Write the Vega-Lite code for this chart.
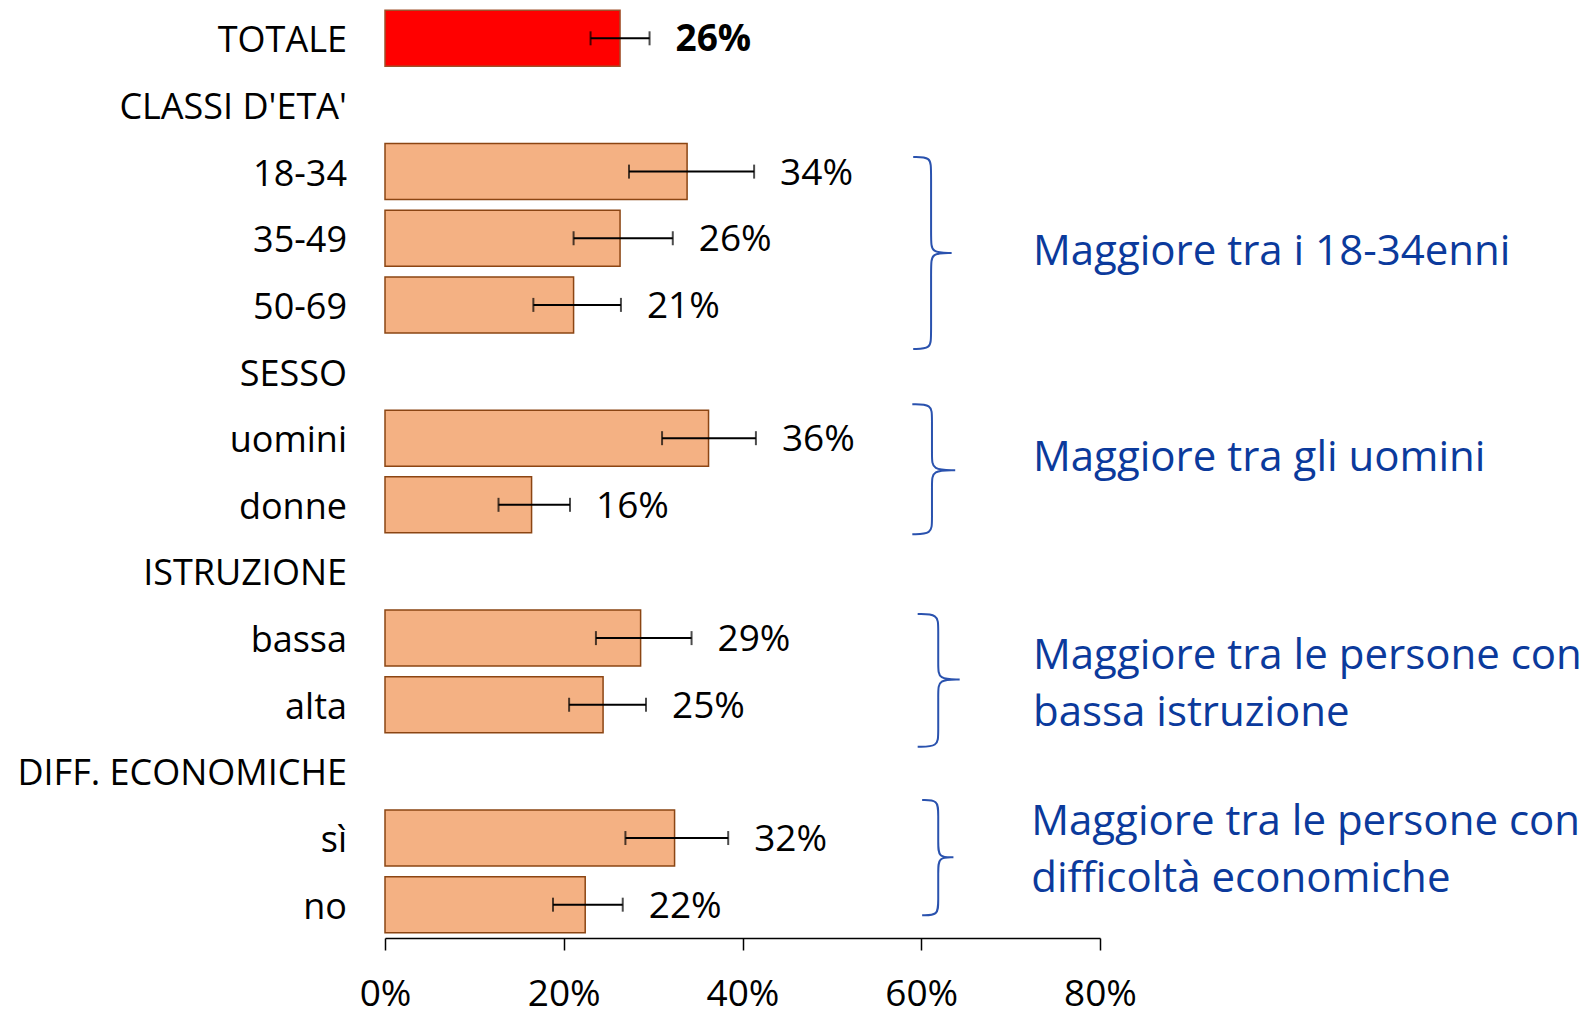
{
  "$schema": "https://vega.github.io/schema/vega-lite/v6.json",
  "width": 715,
  "height": 933,
  "autosize": "none",
  "padding": {"left": 385, "top": 5, "right": 485, "bottom": 71},
  "background": "white",
  "config": {"view": {"stroke": null}, "font": "Open Sans"},
  "datasets": {
    "rows": [
      {"idx": 0, "cat": "TOTALE", "value": 26.3, "lo": 23.0, "hi": 29.6, "lab": "26%", "kind": "total"},
      {"idx": 1, "cat": "CLASSI D'ETA'", "value": null, "lo": null, "hi": null, "lab": null, "kind": "head"},
      {"idx": 2, "cat": "18-34", "value": 33.8, "lo": 27.3, "hi": 41.3, "lab": "34%", "kind": "bar"},
      {"idx": 3, "cat": "35-49", "value": 26.3, "lo": 21.1, "hi": 32.2, "lab": "26%", "kind": "bar"},
      {"idx": 4, "cat": "50-69", "value": 21.1, "lo": 16.6, "hi": 26.4, "lab": "21%", "kind": "bar"},
      {"idx": 5, "cat": "SESSO", "value": null, "lo": null, "hi": null, "lab": null, "kind": "head"},
      {"idx": 6, "cat": "uomini", "value": 36.2, "lo": 31.0, "hi": 41.5, "lab": "36%", "kind": "bar"},
      {"idx": 7, "cat": "donne", "value": 16.4, "lo": 12.7, "hi": 20.7, "lab": "16%", "kind": "bar"},
      {"idx": 8, "cat": "ISTRUZIONE", "value": null, "lo": null, "hi": null, "lab": null, "kind": "head"},
      {"idx": 9, "cat": "bassa", "value": 28.6, "lo": 23.6, "hi": 34.3, "lab": "29%", "kind": "bar"},
      {"idx": 10, "cat": "alta", "value": 24.4, "lo": 20.6, "hi": 29.2, "lab": "25%", "kind": "bar"},
      {"idx": 11, "cat": "DIFF. ECONOMICHE", "value": null, "lo": null, "hi": null, "lab": null, "kind": "head"},
      {"idx": 12, "cat": "sì", "value": 32.4, "lo": 26.9, "hi": 38.4, "lab": "32%", "kind": "bar"},
      {"idx": 13, "cat": "no", "value": 22.4, "lo": 18.8, "hi": 26.6, "lab": "22%", "kind": "bar"}
    ],
    "notes": [
      {"x": 72.5, "y": 3.17, "t": "Maggiore tra i 18-34enni"},
      {"x": 72.5, "y": 6.27, "t": "Maggiore tra gli uomini"},
      {"x": 72.5, "y": 9.24, "t": "Maggiore tra le persone con"},
      {"x": 72.5, "y": 10.09, "t": "bassa istruzione"},
      {"x": 72.3, "y": 11.73, "t": "Maggiore tra le persone con"},
      {"x": 72.3, "y": 12.58, "t": "difficoltà economiche"}
    ],
    "braces": [
      {"b": 1, "o": 0, "x": 59.1, "y": 1.78}, {"b": 1, "o": 1, "x": 61.1, "y": 1.78}, {"b": 1, "o": 2, "x": 61.1, "y": 1.98},
      {"b": 1, "o": 3, "x": 61.1, "y": 3.02}, {"b": 1, "o": 4, "x": 61.1, "y": 3.22}, {"b": 1, "o": 5, "x": 63.4, "y": 3.22},
      {"b": 1, "o": 6, "x": 63.4, "y": 3.22}, {"b": 1, "o": 7, "x": 63.4, "y": 3.22}, {"b": 1, "o": 8, "x": 61.1, "y": 3.22},
      {"b": 1, "o": 9, "x": 61.1, "y": 3.42}, {"b": 1, "o": 10, "x": 61.1, "y": 4.46}, {"b": 1, "o": 11, "x": 61.1, "y": 4.66},
      {"b": 1, "o": 12, "x": 59.1, "y": 4.66},
      {"b": 2, "o": 0, "x": 59.0, "y": 5.49}, {"b": 2, "o": 1, "x": 61.2, "y": 5.49}, {"b": 2, "o": 2, "x": 61.2, "y": 5.69},
      {"b": 2, "o": 3, "x": 61.2, "y": 6.28}, {"b": 2, "o": 4, "x": 61.2, "y": 6.48}, {"b": 2, "o": 5, "x": 63.8, "y": 6.48},
      {"b": 2, "o": 6, "x": 63.8, "y": 6.48}, {"b": 2, "o": 7, "x": 63.8, "y": 6.48}, {"b": 2, "o": 8, "x": 61.2, "y": 6.48},
      {"b": 2, "o": 9, "x": 61.2, "y": 6.68}, {"b": 2, "o": 10, "x": 61.2, "y": 7.24}, {"b": 2, "o": 11, "x": 61.2, "y": 7.44},
      {"b": 2, "o": 12, "x": 59.0, "y": 7.44},
      {"b": 3, "o": 0, "x": 59.6, "y": 8.64}, {"b": 3, "o": 1, "x": 61.9, "y": 8.64}, {"b": 3, "o": 2, "x": 61.9, "y": 8.84},
      {"b": 3, "o": 3, "x": 61.9, "y": 9.42}, {"b": 3, "o": 4, "x": 61.9, "y": 9.62}, {"b": 3, "o": 5, "x": 64.3, "y": 9.62},
      {"b": 3, "o": 6, "x": 64.3, "y": 9.62}, {"b": 3, "o": 7, "x": 64.3, "y": 9.62}, {"b": 3, "o": 8, "x": 61.9, "y": 9.62},
      {"b": 3, "o": 9, "x": 61.9, "y": 9.82}, {"b": 3, "o": 10, "x": 61.9, "y": 10.43}, {"b": 3, "o": 11, "x": 61.9, "y": 10.63},
      {"b": 3, "o": 12, "x": 59.6, "y": 10.63},
      {"b": 4, "o": 0, "x": 60.1, "y": 11.43}, {"b": 4, "o": 1, "x": 61.9, "y": 11.43}, {"b": 4, "o": 2, "x": 61.9, "y": 11.63},
      {"b": 4, "o": 3, "x": 61.9, "y": 12.09}, {"b": 4, "o": 4, "x": 61.9, "y": 12.29}, {"b": 4, "o": 5, "x": 63.6, "y": 12.29},
      {"b": 4, "o": 6, "x": 63.6, "y": 12.29}, {"b": 4, "o": 7, "x": 63.6, "y": 12.29}, {"b": 4, "o": 8, "x": 61.9, "y": 12.29},
      {"b": 4, "o": 9, "x": 61.9, "y": 12.49}, {"b": 4, "o": 10, "x": 61.9, "y": 12.96}, {"b": 4, "o": 11, "x": 61.9, "y": 13.16},
      {"b": 4, "o": 12, "x": 60.1, "y": 13.16}
    ]
  },
  "layer": [
    {
      "data": {"name": "rows"},
      "transform": [{"filter": "datum.value != null"}],
      "mark": {"type": "bar", "orient": "horizontal", "size": 56, "strokeWidth": 1.5},
      "encoding": {
        "x": {
          "field": "value", "type": "quantitative",
          "scale": {"domain": [0, 80], "nice": false, "padding": 0},
          "axis": {
            "values": [0, 20, 40, 60, 80], "labelExpr": "datum.value + '%'", "title": null, "grid": false,
            "domainColor": "black", "domainWidth": 1.5, "tickColor": "black", "tickWidth": 1.5, "tickSize": 12,
            "labelFontSize": 37, "labelColor": "black", "labelPadding": 26, "labelFont": "Open Sans",
            "labelFlush": false, "labelOverlap": false
          }
        },
        "y": {
          "field": "idx", "type": "quantitative",
          "scale": {"domain": [-0.5, 13.5], "reverse": true, "nice": false, "zero": false, "padding": 0},
          "axis": null
        },
        "color": {
          "field": "kind", "type": "nominal",
          "scale": {"domain": ["total", "bar"], "range": ["#FF0000", "#F4B183"]},
          "legend": null
        },
        "stroke": {
          "field": "kind", "type": "nominal",
          "scale": {"domain": ["total", "bar"], "range": ["#A0502A", "#8B4513"]},
          "legend": null
        }
      }
    },
    {
      "data": {"name": "rows"},
      "transform": [{"filter": "datum.value != null"}],
      "mark": {"type": "rule", "color": "black", "strokeWidth": 2},
      "encoding": {
        "x": {"field": "lo", "type": "quantitative"},
        "x2": {"field": "hi"},
        "y": {"field": "idx", "type": "quantitative"}
      }
    },
    {
      "data": {"name": "rows"},
      "transform": [{"filter": "datum.value != null"}],
      "mark": {"type": "tick", "orient": "vertical", "color": "black", "size": 14, "thickness": 2},
      "encoding": {
        "x": {"field": "lo", "type": "quantitative"},
        "y": {"field": "idx", "type": "quantitative"}
      }
    },
    {
      "data": {"name": "rows"},
      "transform": [{"filter": "datum.value != null"}],
      "mark": {"type": "tick", "orient": "vertical", "color": "black", "size": 14, "thickness": 2},
      "encoding": {
        "x": {"field": "hi", "type": "quantitative"},
        "y": {"field": "idx", "type": "quantitative"}
      }
    },
    {
      "data": {"name": "rows"},
      "transform": [{"filter": "datum.kind == 'bar'"}],
      "mark": {"type": "text", "align": "left", "baseline": "middle", "dx": 26, "dy": 2, "fontSize": 37, "font": "Open Sans", "color": "black"},
      "encoding": {
        "x": {"field": "hi", "type": "quantitative"},
        "y": {"field": "idx", "type": "quantitative"},
        "text": {"field": "lab"}
      }
    },
    {
      "data": {"name": "rows"},
      "transform": [{"filter": "datum.kind == 'total'"}],
      "mark": {"type": "text", "align": "left", "baseline": "middle", "dx": 26, "dy": 2, "fontSize": 37, "fontWeight": "bold", "font": "Open Sans", "color": "black"},
      "encoding": {
        "x": {"field": "hi", "type": "quantitative"},
        "y": {"field": "idx", "type": "quantitative"},
        "text": {"field": "lab"}
      }
    },
    {
      "data": {"name": "rows"},
      "mark": {"type": "text", "align": "right", "baseline": "middle", "dx": -38, "dy": 3, "fontSize": 36, "font": "Open Sans", "color": "black"},
      "encoding": {
        "x": {"datum": 0, "type": "quantitative"},
        "y": {"field": "idx", "type": "quantitative"},
        "text": {"field": "cat"}
      }
    },
    {
      "data": {"name": "braces"},
      "mark": {"type": "line", "interpolate": "basis", "color": "#2A52AE", "strokeWidth": 2},
      "encoding": {
        "x": {"field": "x", "type": "quantitative"},
        "y": {"field": "y", "type": "quantitative"},
        "detail": {"field": "b", "type": "nominal"},
        "order": {"field": "o", "type": "quantitative"}
      }
    },
    {
      "data": {"name": "notes"},
      "mark": {"type": "text", "align": "left", "baseline": "middle", "dy": 2, "fontSize": 42, "font": "Open Sans", "color": "#0B3A9C"},
      "encoding": {
        "x": {"field": "x", "type": "quantitative"},
        "y": {"field": "y", "type": "quantitative"},
        "text": {"field": "t"}
      }
    }
  ]
}
